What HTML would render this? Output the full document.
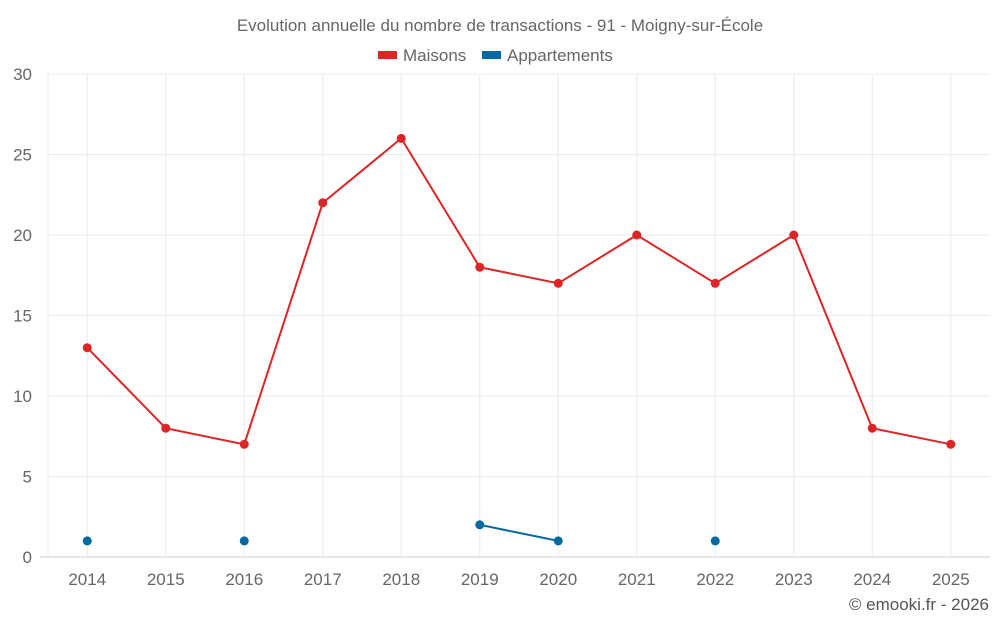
<!DOCTYPE html>
<html><head><meta charset="utf-8"><style>
body{margin:0;background:#fff;}
svg text{font-family:"Liberation Sans",sans-serif;}
</style></head><body>
<svg id="chart" width="1000" height="625" xmlns="http://www.w3.org/2000/svg">
<text x="500" y="31" text-anchor="middle" font-size="17" fill="#666">Evolution annuelle du nombre de transactions - 91 - Moigny-sur-École</text>
<g>
<g><rect x="378" y="51" width="19" height="8" fill="#dc2626"/><text x="403" y="61" font-size="17" fill="#666">Maisons</text></g>
<g><rect x="482" y="51" width="19" height="8" fill="#0369a1"/><text x="507" y="61" font-size="17" fill="#666">Appartements</text></g>
</g>
<g id="grid"></g><g id="axes"></g><g id="series"></g>
<text x="989" y="610" text-anchor="end" font-size="17" fill="#555">© emooki.fr - 2026</text>
</svg>
<script>
const categories=["2014","2015","2016","2017","2018","2019","2020","2021","2022","2023","2024","2025"];
const maisons=[13,8,7,22,26,18,17,20,17,20,8,7];
const appartements=[1,null,1,null,null,2,1,null,1,null,null,null];
const yTicks=[0,5,10,15,20,25,30];
const L=48,R=990,T=74,B=557,yMax=30;
const bw=(R-L)/categories.length;
const xS=i=>L+bw*(i+0.5);
const yS=v=>B-(v/yMax)*(B-T);
const NS="http://www.w3.org/2000/svg";
function mk(tag,attrs,parent){const e=document.createElementNS(NS,tag);for(const k in attrs)e.setAttribute(k,attrs[k]);parent.appendChild(e);return e;}
const grid=document.getElementById('grid'),axes=document.getElementById('axes'),ser=document.getElementById('series');
yTicks.forEach(t=>{
 const l=mk('line',{x1:L,x2:R,y1:yS(t),y2:yS(t),stroke:t===0?'#ccc':'#ebebeb','stroke-width':1},grid);
 
 
 const tx=mk('text',{x:32,y:yS(t)+6,'text-anchor':'end','font-size':17,fill:'#666'},axes);
 tx.textContent=t;
 
 
});
mk('line',{x1:L,x2:L,y1:T,y2:B,stroke:'#ebebeb'},grid);
mk('line',{x1:40,x2:L,y1:B,y2:B,stroke:'#ccc'},grid);
categories.forEach((c,i)=>{
 const l=mk('line',{x1:xS(i),x2:xS(i),y1:T,y2:B,stroke:'#ebebeb'},grid);
 
 
 const tx=mk('text',{x:xS(i),y:585,'text-anchor':'middle','font-size':17,fill:'#666'},axes);
 tx.textContent=c;
 
 
});
function drawSeries(vals,color,name){
 let seg=[];
 const flush=()=>{if(seg.length>1){const p=mk('polyline',{points:seg.join(' '),fill:'none',stroke:color,'stroke-width':2},ser);
  
  }seg=[];};
 vals.forEach((v,i)=>{if(v===null){flush();return;}seg.push(xS(i)+','+yS(v));});
 flush();
 vals.forEach((v,i)=>{if(v===null)return;
  const c=mk('circle',{cx:xS(i),cy:yS(v),r:4.5,fill:color},ser);
  
  });
}
drawSeries(maisons,'#dc2626','maisons');
drawSeries(appartements,'#0369a1','appartements');
</script>
</body></html>
